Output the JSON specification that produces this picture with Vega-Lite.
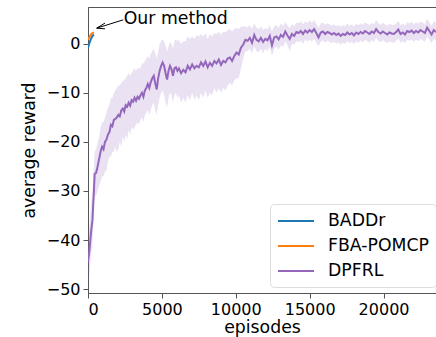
{
  "$schema": "https://vega.github.io/schema/vega-lite/v6.json",
  "width": 348,
  "height": 286,
  "autosize": {"type": "none"},
  "padding": {"left": 88, "top": 7, "right": 0, "bottom": 44},
  "config": {
    "font": "DejaVu Sans",
    "view": {"stroke": "#555", "strokeWidth": 1},
    "axis": {"labelFont": "DejaVu Sans", "titleFont": "DejaVu Sans", "labelFontSize": 16, "titleFontSize": 17.3, "labelColor": "#000", "titleColor": "#000", "titleFontWeight": "normal", "grid": false, "domainColor": "#555", "tickColor": "#555", "tickSize": 5}
  },
  "datasets": {
    "curves": [
      {"method": "DPFRL", "episode": 0, "reward": -44.5, "lo": -49, "hi": -40},
      {"method": "DPFRL", "episode": 100, "reward": -42, "lo": -47, "hi": -37},
      {"method": "DPFRL", "episode": 200, "reward": -38.5, "lo": -43, "hi": -33},
      {"method": "DPFRL", "episode": 300, "reward": -36, "lo": -41, "hi": -30},
      {"method": "DPFRL", "episode": 400, "reward": -30, "lo": -34, "hi": -25},
      {"method": "DPFRL", "episode": 450, "reward": -26.5, "lo": -31, "hi": -22},
      {"method": "DPFRL", "episode": 550, "reward": -26.3, "lo": -31, "hi": -21.5},
      {"method": "DPFRL", "episode": 650, "reward": -25, "lo": -30, "hi": -20},
      {"method": "DPFRL", "episode": 750, "reward": -23.5, "lo": -29, "hi": -19},
      {"method": "DPFRL", "episode": 850, "reward": -22, "lo": -28, "hi": -17},
      {"method": "DPFRL", "episode": 950, "reward": -21, "lo": -27, "hi": -16},
      {"method": "DPFRL", "episode": 1050, "reward": -21.5, "lo": -27, "hi": -16},
      {"method": "DPFRL", "episode": 1150, "reward": -20, "lo": -26, "hi": -15},
      {"method": "DPFRL", "episode": 1250, "reward": -19.5, "lo": -26, "hi": -14},
      {"method": "DPFRL", "episode": 1350, "reward": -18.5, "lo": -24, "hi": -13},
      {"method": "DPFRL", "episode": 1450, "reward": -18, "lo": -23, "hi": -12.5},
      {"method": "DPFRL", "episode": 1550, "reward": -16.5, "lo": -23, "hi": -11},
      {"method": "DPFRL", "episode": 1650, "reward": -16.8, "lo": -22, "hi": -11},
      {"method": "DPFRL", "episode": 1750, "reward": -15.5, "lo": -22, "hi": -10},
      {"method": "DPFRL", "episode": 1850, "reward": -15.3, "lo": -21, "hi": -9.5},
      {"method": "DPFRL", "episode": 1950, "reward": -15, "lo": -22, "hi": -9},
      {"method": "DPFRL", "episode": 2050, "reward": -14.5, "lo": -21.5, "hi": -8.5},
      {"method": "DPFRL", "episode": 2150, "reward": -14.8, "lo": -20, "hi": -8.5},
      {"method": "DPFRL", "episode": 2250, "reward": -13.6, "lo": -21, "hi": -8},
      {"method": "DPFRL", "episode": 2350, "reward": -13.2, "lo": -19, "hi": -7.5},
      {"method": "DPFRL", "episode": 2450, "reward": -13.8, "lo": -20, "hi": -7.5},
      {"method": "DPFRL", "episode": 2550, "reward": -12.5, "lo": -18.5, "hi": -7},
      {"method": "DPFRL", "episode": 2650, "reward": -12.8, "lo": -19.5, "hi": -6.5},
      {"method": "DPFRL", "episode": 2750, "reward": -12, "lo": -17.5, "hi": -6},
      {"method": "DPFRL", "episode": 2850, "reward": -12.6, "lo": -18.5, "hi": -6.5},
      {"method": "DPFRL", "episode": 2950, "reward": -11.5, "lo": -17, "hi": -6},
      {"method": "DPFRL", "episode": 3050, "reward": -11.8, "lo": -17.5, "hi": -5.5},
      {"method": "DPFRL", "episode": 3150, "reward": -11, "lo": -17, "hi": -5},
      {"method": "DPFRL", "episode": 3250, "reward": -11.6, "lo": -16.5, "hi": -5.5},
      {"method": "DPFRL", "episode": 3350, "reward": -10.8, "lo": -16, "hi": -5},
      {"method": "DPFRL", "episode": 3450, "reward": -11.2, "lo": -16.5, "hi": -5},
      {"method": "DPFRL", "episode": 3550, "reward": -10.5, "lo": -15.5, "hi": -5},
      {"method": "DPFRL", "episode": 3650, "reward": -10, "lo": -15, "hi": -4},
      {"method": "DPFRL", "episode": 3750, "reward": -10.8, "lo": -16, "hi": -4},
      {"method": "DPFRL", "episode": 3850, "reward": -9.5, "lo": -14.5, "hi": -3.5},
      {"method": "DPFRL", "episode": 3950, "reward": -9, "lo": -14, "hi": -3},
      {"method": "DPFRL", "episode": 4050, "reward": -8.2, "lo": -13.5, "hi": -2.5},
      {"method": "DPFRL", "episode": 4150, "reward": -9, "lo": -14.5, "hi": -3},
      {"method": "DPFRL", "episode": 4250, "reward": -7.8, "lo": -13.5, "hi": -2},
      {"method": "DPFRL", "episode": 4350, "reward": -7, "lo": -12.5, "hi": -1.5},
      {"method": "DPFRL", "episode": 4450, "reward": -6.5, "lo": -12, "hi": -1},
      {"method": "DPFRL", "episode": 4550, "reward": -8, "lo": -13.5, "hi": -2},
      {"method": "DPFRL", "episode": 4650, "reward": -9.3, "lo": -14.5, "hi": -3},
      {"method": "DPFRL", "episode": 4750, "reward": -7, "lo": -12.5, "hi": -1.5},
      {"method": "DPFRL", "episode": 4850, "reward": -5.5, "lo": -11, "hi": 0},
      {"method": "DPFRL", "episode": 4950, "reward": -4.5, "lo": -10, "hi": 0.5},
      {"method": "DPFRL", "episode": 5050, "reward": -3.8, "lo": -9.5, "hi": 1},
      {"method": "DPFRL", "episode": 5150, "reward": -4.5, "lo": -10.5, "hi": 0.5},
      {"method": "DPFRL", "episode": 5250, "reward": -6, "lo": -12, "hi": -0.5},
      {"method": "DPFRL", "episode": 5350, "reward": -7.3, "lo": -13, "hi": -1.5},
      {"method": "DPFRL", "episode": 5450, "reward": -5.5, "lo": -11, "hi": -0.5},
      {"method": "DPFRL", "episode": 5550, "reward": -4.5, "lo": -10, "hi": 0.3},
      {"method": "DPFRL", "episode": 5650, "reward": -5.2, "lo": -10.5, "hi": 0},
      {"method": "DPFRL", "episode": 5750, "reward": -6.5, "lo": -12, "hi": -1},
      {"method": "DPFRL", "episode": 5850, "reward": -5, "lo": -10.5, "hi": 0.5},
      {"method": "DPFRL", "episode": 5950, "reward": -4.8, "lo": -10, "hi": 1},
      {"method": "DPFRL", "episode": 6050, "reward": -5.5, "lo": -11, "hi": 0.5},
      {"method": "DPFRL", "episode": 6150, "reward": -5, "lo": -10.5, "hi": 0.8},
      {"method": "DPFRL", "episode": 6300, "reward": -6, "lo": -12, "hi": 0},
      {"method": "DPFRL", "episode": 6450, "reward": -5.3, "lo": -11, "hi": 0.5},
      {"method": "DPFRL", "episode": 6600, "reward": -5.8, "lo": -12, "hi": 0.5},
      {"method": "DPFRL", "episode": 6750, "reward": -4.5, "lo": -10.5, "hi": 1.5},
      {"method": "DPFRL", "episode": 6900, "reward": -5.2, "lo": -11.5, "hi": 1},
      {"method": "DPFRL", "episode": 7050, "reward": -4.2, "lo": -10, "hi": 1.5},
      {"method": "DPFRL", "episode": 7200, "reward": -5, "lo": -11.5, "hi": 1},
      {"method": "DPFRL", "episode": 7350, "reward": -4.5, "lo": -10.5, "hi": 1.8},
      {"method": "DPFRL", "episode": 7500, "reward": -4.8, "lo": -11.5, "hi": 1.5},
      {"method": "DPFRL", "episode": 7650, "reward": -3.8, "lo": -10, "hi": 2},
      {"method": "DPFRL", "episode": 7800, "reward": -4.5, "lo": -11, "hi": 1.5},
      {"method": "DPFRL", "episode": 7950, "reward": -3.6, "lo": -9.5, "hi": 2.2},
      {"method": "DPFRL", "episode": 8100, "reward": -4.8, "lo": -11, "hi": 1},
      {"method": "DPFRL", "episode": 8250, "reward": -3.9, "lo": -10, "hi": 2},
      {"method": "DPFRL", "episode": 8400, "reward": -4.5, "lo": -10.5, "hi": 1.5},
      {"method": "DPFRL", "episode": 8550, "reward": -3.5, "lo": -9, "hi": 2.2},
      {"method": "DPFRL", "episode": 8700, "reward": -4, "lo": -10, "hi": 2},
      {"method": "DPFRL", "episode": 8850, "reward": -3.2, "lo": -9, "hi": 2.5},
      {"method": "DPFRL", "episode": 9000, "reward": -4.3, "lo": -10, "hi": 1.8},
      {"method": "DPFRL", "episode": 9150, "reward": -3.5, "lo": -9, "hi": 2.5},
      {"method": "DPFRL", "episode": 9300, "reward": -3.8, "lo": -9.5, "hi": 2.3},
      {"method": "DPFRL", "episode": 9450, "reward": -3, "lo": -8.5, "hi": 2.8},
      {"method": "DPFRL", "episode": 9600, "reward": -2.8, "lo": -8, "hi": 3},
      {"method": "DPFRL", "episode": 9750, "reward": -3.5, "lo": -8.5, "hi": 2.5},
      {"method": "DPFRL", "episode": 9900, "reward": -2.5, "lo": -7.5, "hi": 3},
      {"method": "DPFRL", "episode": 10050, "reward": -1.8, "lo": -7, "hi": 3.2},
      {"method": "DPFRL", "episode": 10200, "reward": -2.2, "lo": -7, "hi": 3},
      {"method": "DPFRL", "episode": 10350, "reward": -0.8, "lo": -5, "hi": 3.5},
      {"method": "DPFRL", "episode": 10500, "reward": -0.2, "lo": -3, "hi": 3.5},
      {"method": "DPFRL", "episode": 10650, "reward": 0.8, "lo": -1.5, "hi": 3.5},
      {"method": "DPFRL", "episode": 10800, "reward": 0.6, "lo": -1.5, "hi": 3.3},
      {"method": "DPFRL", "episode": 10950, "reward": 1.2, "lo": -1, "hi": 3.8},
      {"method": "DPFRL", "episode": 11100, "reward": 0.2, "lo": -2, "hi": 3},
      {"method": "DPFRL", "episode": 11250, "reward": 1.8, "lo": -0.5, "hi": 4.2},
      {"method": "DPFRL", "episode": 11400, "reward": 0.8, "lo": -1.5, "hi": 3.3},
      {"method": "DPFRL", "episode": 11550, "reward": 0.5, "lo": -1.8, "hi": 3},
      {"method": "DPFRL", "episode": 11700, "reward": 1.2, "lo": -1, "hi": 3.5},
      {"method": "DPFRL", "episode": 11850, "reward": 0.4, "lo": -2, "hi": 2.8},
      {"method": "DPFRL", "episode": 12000, "reward": 1.0, "lo": -1, "hi": 3.2},
      {"method": "DPFRL", "episode": 12150, "reward": 0.7, "lo": -1.5, "hi": 3},
      {"method": "DPFRL", "episode": 12300, "reward": 1.6, "lo": -0.5, "hi": 3.8},
      {"method": "DPFRL", "episode": 12450, "reward": -0.3, "lo": -2.5, "hi": 2.5},
      {"method": "DPFRL", "episode": 12600, "reward": 1.3, "lo": -1, "hi": 3.5},
      {"method": "DPFRL", "episode": 12750, "reward": 1.5, "lo": -0.5, "hi": 3.8},
      {"method": "DPFRL", "episode": 12900, "reward": 0.9, "lo": -1.2, "hi": 3.2},
      {"method": "DPFRL", "episode": 13050, "reward": 1.8, "lo": -0.3, "hi": 4.2},
      {"method": "DPFRL", "episode": 13200, "reward": 1.4, "lo": -0.7, "hi": 3.6},
      {"method": "DPFRL", "episode": 13350, "reward": 2.5, "lo": 0.5, "hi": 4.5},
      {"method": "DPFRL", "episode": 13500, "reward": 1.7, "lo": -0.3, "hi": 3.8},
      {"method": "DPFRL", "episode": 13650, "reward": 1.0, "lo": -1.5, "hi": 3.2},
      {"method": "DPFRL", "episode": 13800, "reward": 2.0, "lo": 0, "hi": 4},
      {"method": "DPFRL", "episode": 13950, "reward": 1.6, "lo": -0.2, "hi": 3.6},
      {"method": "DPFRL", "episode": 14100, "reward": 2.4, "lo": 0.5, "hi": 4.3},
      {"method": "DPFRL", "episode": 14250, "reward": 2.2, "lo": 0.3, "hi": 4.2},
      {"method": "DPFRL", "episode": 14400, "reward": 2.6, "lo": 0.6, "hi": 4.6},
      {"method": "DPFRL", "episode": 14550, "reward": 2.0, "lo": 0, "hi": 4},
      {"method": "DPFRL", "episode": 14700, "reward": 2.7, "lo": 0.8, "hi": 4.6},
      {"method": "DPFRL", "episode": 14850, "reward": 2.3, "lo": 0.4, "hi": 4.2},
      {"method": "DPFRL", "episode": 15000, "reward": 2.8, "lo": 0.8, "hi": 4.8},
      {"method": "DPFRL", "episode": 15150, "reward": 2.4, "lo": 0.5, "hi": 4.3},
      {"method": "DPFRL", "episode": 15300, "reward": 3.0, "lo": 1, "hi": 4.9},
      {"method": "DPFRL", "episode": 15450, "reward": 2.2, "lo": 0.3, "hi": 4.1},
      {"method": "DPFRL", "episode": 15600, "reward": 1.3, "lo": -0.5, "hi": 3.2},
      {"method": "DPFRL", "episode": 15750, "reward": 2.3, "lo": 0.4, "hi": 4.2},
      {"method": "DPFRL", "episode": 15900, "reward": 2.5, "lo": 0.7, "hi": 4.3},
      {"method": "DPFRL", "episode": 16050, "reward": 2.0, "lo": 0.2, "hi": 3.9},
      {"method": "DPFRL", "episode": 16200, "reward": 2.4, "lo": 0.6, "hi": 4.2},
      {"method": "DPFRL", "episode": 16350, "reward": 2.2, "lo": 0.4, "hi": 4},
      {"method": "DPFRL", "episode": 16500, "reward": 1.9, "lo": 0.1, "hi": 3.7},
      {"method": "DPFRL", "episode": 16650, "reward": 2.2, "lo": 0.4, "hi": 4},
      {"method": "DPFRL", "episode": 16800, "reward": 1.8, "lo": 0, "hi": 3.6},
      {"method": "DPFRL", "episode": 16950, "reward": 2.1, "lo": 0.3, "hi": 3.9},
      {"method": "DPFRL", "episode": 17100, "reward": 1.6, "lo": -0.2, "hi": 3.4},
      {"method": "DPFRL", "episode": 17250, "reward": 2.0, "lo": 0.2, "hi": 3.8},
      {"method": "DPFRL", "episode": 17400, "reward": 1.8, "lo": 0, "hi": 3.6},
      {"method": "DPFRL", "episode": 17550, "reward": 2.3, "lo": 0.5, "hi": 4.1},
      {"method": "DPFRL", "episode": 17700, "reward": 1.9, "lo": 0.1, "hi": 3.7},
      {"method": "DPFRL", "episode": 17850, "reward": 2.2, "lo": 0.4, "hi": 4},
      {"method": "DPFRL", "episode": 18000, "reward": 1.7, "lo": -0.1, "hi": 3.5},
      {"method": "DPFRL", "episode": 18150, "reward": 2.3, "lo": 0.5, "hi": 4.1},
      {"method": "DPFRL", "episode": 18300, "reward": 2.0, "lo": 0.2, "hi": 3.8},
      {"method": "DPFRL", "episode": 18450, "reward": 2.4, "lo": 0.6, "hi": 4.2},
      {"method": "DPFRL", "episode": 18600, "reward": 2.1, "lo": 0.3, "hi": 3.9},
      {"method": "DPFRL", "episode": 18750, "reward": 2.6, "lo": 0.8, "hi": 4.4},
      {"method": "DPFRL", "episode": 18900, "reward": 2.3, "lo": 0.5, "hi": 4.1},
      {"method": "DPFRL", "episode": 19050, "reward": 2.0, "lo": 0.2, "hi": 3.8},
      {"method": "DPFRL", "episode": 19200, "reward": 2.5, "lo": 0.7, "hi": 4.3},
      {"method": "DPFRL", "episode": 19350, "reward": 2.2, "lo": 0.4, "hi": 4},
      {"method": "DPFRL", "episode": 19500, "reward": 3.0, "lo": 1.2, "hi": 4.8},
      {"method": "DPFRL", "episode": 19650, "reward": 2.4, "lo": 0.6, "hi": 4.2},
      {"method": "DPFRL", "episode": 19800, "reward": 2.1, "lo": 0.3, "hi": 3.9},
      {"method": "DPFRL", "episode": 19950, "reward": 2.5, "lo": 0.7, "hi": 4.3},
      {"method": "DPFRL", "episode": 20100, "reward": 2.2, "lo": 0.4, "hi": 4},
      {"method": "DPFRL", "episode": 20250, "reward": 1.9, "lo": 0.1, "hi": 3.7},
      {"method": "DPFRL", "episode": 20400, "reward": 2.3, "lo": 0.5, "hi": 4.1},
      {"method": "DPFRL", "episode": 20550, "reward": 2.1, "lo": 0.3, "hi": 3.9},
      {"method": "DPFRL", "episode": 20700, "reward": 2.0, "lo": 0.2, "hi": 3.8},
      {"method": "DPFRL", "episode": 20850, "reward": 2.4, "lo": 0.6, "hi": 4.2},
      {"method": "DPFRL", "episode": 21000, "reward": 2.9, "lo": 1.1, "hi": 4.7},
      {"method": "DPFRL", "episode": 21150, "reward": 2.0, "lo": 0.2, "hi": 3.8},
      {"method": "DPFRL", "episode": 21300, "reward": 2.3, "lo": 0.5, "hi": 4.1},
      {"method": "DPFRL", "episode": 21450, "reward": 1.9, "lo": 0.1, "hi": 3.7},
      {"method": "DPFRL", "episode": 21600, "reward": 2.6, "lo": 0.8, "hi": 4.4},
      {"method": "DPFRL", "episode": 21750, "reward": 2.4, "lo": 0.6, "hi": 4.2},
      {"method": "DPFRL", "episode": 21900, "reward": 2.7, "lo": 0.9, "hi": 4.5},
      {"method": "DPFRL", "episode": 22050, "reward": 2.2, "lo": 0.4, "hi": 4},
      {"method": "DPFRL", "episode": 22200, "reward": 2.6, "lo": 0.8, "hi": 4.4},
      {"method": "DPFRL", "episode": 22350, "reward": 2.3, "lo": 0.5, "hi": 4.1},
      {"method": "DPFRL", "episode": 22500, "reward": 2.8, "lo": 1, "hi": 4.6},
      {"method": "DPFRL", "episode": 22650, "reward": 2.5, "lo": 0.7, "hi": 4.3},
      {"method": "DPFRL", "episode": 22800, "reward": 2.2, "lo": 0.4, "hi": 4},
      {"method": "DPFRL", "episode": 22950, "reward": 3.3, "lo": 1.5, "hi": 5.1},
      {"method": "DPFRL", "episode": 23100, "reward": 2.6, "lo": 0.8, "hi": 4.4},
      {"method": "DPFRL", "episode": 23250, "reward": 1.9, "lo": 0.1, "hi": 3.7},
      {"method": "DPFRL", "episode": 23400, "reward": 2.8, "lo": 1, "hi": 4.6},
      {"method": "DPFRL", "episode": 23550, "reward": 2.4, "lo": 0.6, "hi": 4.2},
      {"method": "BADDr", "episode": 0, "reward": -0.8},
      {"method": "BADDr", "episode": 100, "reward": 0.2},
      {"method": "BADDr", "episode": 200, "reward": 1.0},
      {"method": "BADDr", "episode": 300, "reward": 1.6},
      {"method": "BADDr", "episode": 400, "reward": 1.9},
      {"method": "FBA-POMCP", "episode": 0, "reward": 0.8},
      {"method": "FBA-POMCP", "episode": 100, "reward": 1.4},
      {"method": "FBA-POMCP", "episode": 200, "reward": 1.9},
      {"method": "FBA-POMCP", "episode": 300, "reward": 2.2},
      {"method": "FBA-POMCP", "episode": 400, "reward": 2.3}
    ],
    "arrow": [
      {"part": "shaft", "x1": 2385, "y1": 4.88, "x2": 588, "y2": 3.19},
      {"part": "arm1", "x1": 588, "y1": 3.19, "x2": 1149, "y2": 4.21},
      {"part": "arm2", "x1": 588, "y1": 3.19, "x2": 1149, "y2": 3.05}
    ],
    "note": [{"episode": 2420, "reward": 5.1, "label": "Our method"}]
  },
  "layer": [
    {
      "data": {"name": "curves"},
      "transform": [{"filter": "datum.method === 'DPFRL'"}],
      "mark": {"type": "area", "color": "#9467bd", "opacity": 0.2, "clip": true},
      "encoding": {
        "x": {"field": "episode", "type": "quantitative"},
        "y": {"field": "lo", "type": "quantitative"},
        "y2": {"field": "hi"}
      }
    },
    {
      "data": {"name": "curves"},
      "mark": {"type": "line", "strokeWidth": 2, "clip": true},
      "encoding": {
        "x": {"field": "episode", "type": "quantitative", "scale": {"domain": [0, 23550], "nice": false, "zero": false}, "axis": {"values": [0, 5000, 10000, 15000, 20000], "format": "d", "title": "episodes", "titlePadding": 1, "labelPadding": 3}},
        "y": {"field": "reward", "type": "quantitative", "scale": {"domain": [-50.8, 7.5], "nice": false, "zero": false}, "axis": {"values": [0, -10, -20, -30, -40, -50], "title": "average reward", "titlePadding": 8, "labelPadding": 3}},
        "color": {"field": "method", "type": "nominal", "scale": {"domain": ["BADDr", "FBA-POMCP", "DPFRL"], "range": ["#1f77b4", "#ff7f0e", "#9467bd"]},
          "legend": {"title": null, "orient": "none", "legendX": 182, "legendY": 197, "symbolType": "M-2,0H2", "symbolSize": 324, "symbolStrokeWidth": 2, "symbolOffset": 9, "labelFontSize": 17.3, "labelFont": "DejaVu Sans", "labelColor": "#000", "strokeColor": "#ddd", "fillColor": "white", "cornerRadius": 4, "padding": 7, "rowPadding": 6, "labelOffset": 22}},
        "order": {"field": "method"}
      }
    },
    {
      "data": {"name": "arrow"},
      "mark": {"type": "rule", "color": "#000", "strokeWidth": 1},
      "encoding": {
        "x": {"field": "x1", "type": "quantitative"},
        "y": {"field": "y1", "type": "quantitative"},
        "x2": {"field": "x2"},
        "y2": {"field": "y2"}
      }
    },
    {
      "data": {"name": "note"},
      "mark": {"type": "text", "align": "left", "baseline": "middle", "fontSize": 17.3, "font": "DejaVu Sans", "color": "#000"},
      "encoding": {
        "x": {"field": "episode", "type": "quantitative"},
        "y": {"field": "reward", "type": "quantitative"},
        "text": {"field": "label"}
      }
    }
  ]
}
